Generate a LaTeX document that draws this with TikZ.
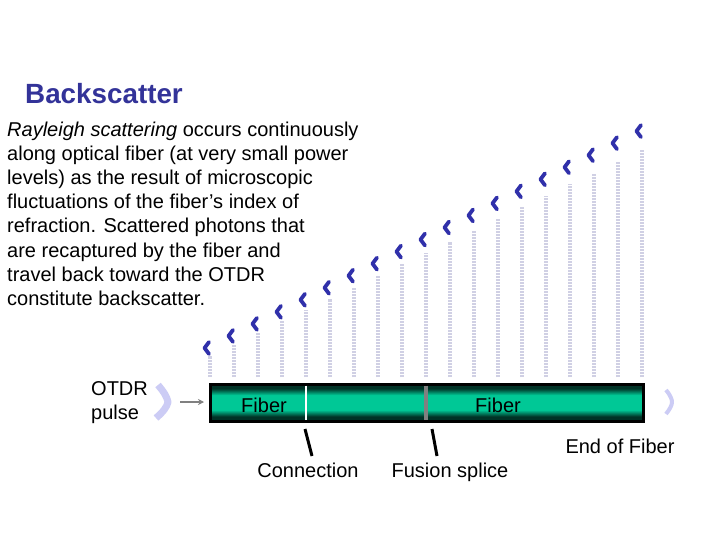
\documentclass[tikz,border=0pt]{standalone}
\usepackage{fontspec}
\setmainfont{Liberation Sans}
\usetikzlibrary{arrows.meta}
\definecolor{titleblue}{RGB}{51,51,153}
\definecolor{chevblue}{RGB}{48,48,170}
\definecolor{pulselav}{RGB}{204,204,245}
\definecolor{fibergreen}{RGB}{0,200,150}
\definecolor{fiberdark}{RGB}{0,50,38}
\definecolor{barlav}{RGB}{208,208,228}
\pgfdeclareverticalshading{fiberfill}{100bp}{color(0bp)=(fiberdark); color(31bp)=(fiberdark); color(40bp)=(fibergreen); color(60bp)=(fibergreen); color(69bp)=(fiberdark); color(100bp)=(fiberdark)}
\tikzset{
  x=1pt,y=-1pt,
  txt/.style={inner sep=0pt,anchor=base west,font=\fontsize{20}{24}\selectfont},
  chev/.style={draw=chevblue,line width=3.8pt,line join=round,line cap=round},
  barline/.style={draw=barlav,line width=4pt,dash pattern=on 2.3pt off 0.7pt},
  pulse/.style={draw=pulselav,line join=round},
  pointer/.style={draw=black,line width=3pt},
}
\begin{document}
\begin{tikzpicture}
\useasboundingbox (0,0) rectangle (720,540);
\fill[white] (0,0) rectangle (720,540);
\node[txt,font=\fontsize{27.8}{30}\bfseries\selectfont,text=titleblue] (title) at (25,104) {Backscatter};
\node[txt] (l1) at (7,137) {\textit{Rayleigh scattering} occurs continuously};
\node[txt] (l2) at (7,161) {along optical fiber (at very small power};
\node[txt] (l3) at (7,185) {levels) as the result of microscopic};
\node[txt] (l4) at (7,209) {fluctuations of the fiber’s index of};
\node[txt] (l5) at (7,233) {refraction. Scattered photons that};
\node[txt] (l6) at (7,257) {are recaptured by the fiber and};
\node[txt] (l7) at (7,281) {travel back toward the OTDR};
\node[txt] (l8) at (7,305) {constitute backscatter.};
\foreach \k in {0,...,18}{
  \pgfmathsetmacro{\bx}{210+24*\k}
  \pgfmathsetmacro{\by}{355.5-11.4*\k}
  \pgfmathsetmacro{\cy}{348-12.05*\k}
  \draw[barline] (\bx,377) -- (\bx,\by);
  \draw[chev] (\bx-1,\cy-6) -- (\bx-5.5,\cy) -- (\bx-1,\cy+6);
}
\node[txt] (otdr1) at (91,395) {OTDR};
\node[txt] (otdr2) at (91,419) {pulse};
\draw[pulse,line width=7pt] (158,385) .. controls (164,392) and (167,397) .. (168,402) .. controls (167,407) and (163,412) .. (156,418);
\coordinate (pulsetail) at (180,402);
\coordinate (pulsehead) at (204,402);
\draw[draw=gray,line width=1.6pt,-{Stealth[length=6pt,width=6pt]}] (pulsetail) -- (pulsehead);
\path[shading=fiberfill] (210,384) rectangle (643,421);
\path[draw=black,line width=3pt] (210,384) rectangle (643,421);
\node[txt,anchor=base] (f1) at (264,412) {Fiber};
\node[txt,anchor=base] (f2) at (498,412) {Fiber};
\draw[white,line width=2.5pt] (306,385.5) -- (306,419.5);
\draw[gray,line width=4pt] (426,385.5) -- (426,419.5);
\draw[pointer] (305,429) -- (312,456);
\draw[pointer] (432,429) -- (437,456);
\draw[pulse,line width=4pt] (666,390) .. controls (671,396) and (672,400) .. (672,402) .. controls (672,405) and (670,409) .. (666,414);
\node[txt,anchor=base] (eof) at (620,453) {End of Fiber};
\node[txt,anchor=base] (conn) at (308,477) {Connection};
\node[txt,anchor=base] (fus) at (450,477) {Fusion splice};
\end{tikzpicture}
\end{document}
